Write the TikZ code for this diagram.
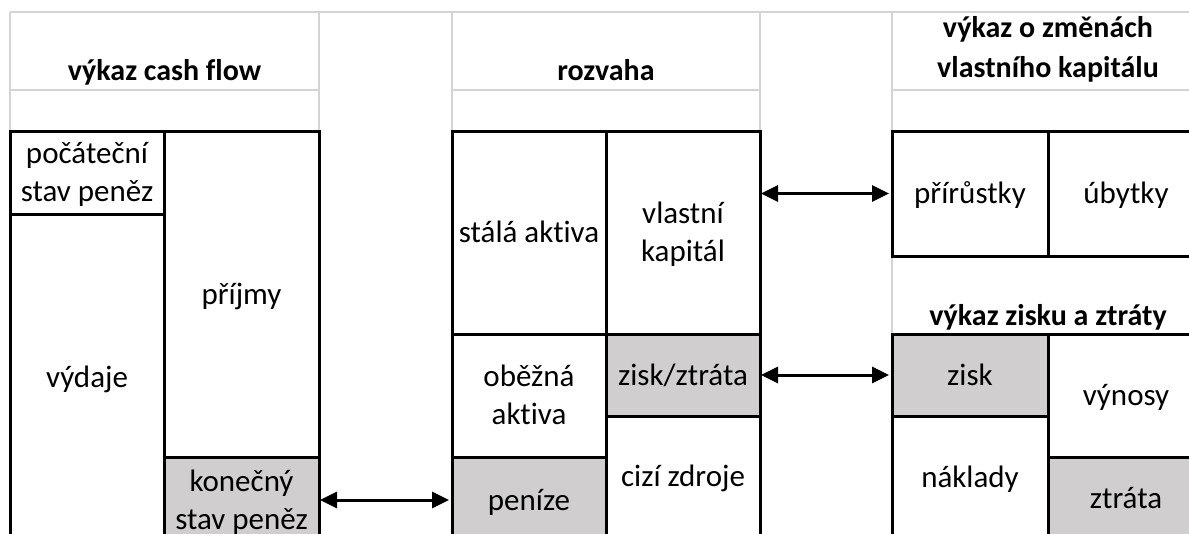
\documentclass[tikz,border=0pt]{standalone}
\usepackage{fontspec}
\setmainfont{Carlito}[Ligatures=NoCommon]
\usetikzlibrary{arrows.meta}
\definecolor{gridgray}{RGB}{212,212,212}
\definecolor{cellgray}{RGB}{208,206,206}
\newcommand{\cs}{\rule[-9pt]{0pt}{38pt}}
\tikzset{
  cell/.style={draw=black, line width=3pt, inner sep=0pt, outer sep=0pt, align=center,
    font=\fontsize{31}{38}\selectfont},
  shaded/.style={fill=cellgray},
  grid/.style={draw=gridgray, line width=1.6pt},
  head/.style={anchor=base, align=center, font=\fontsize{30}{40}\selectfont\bfseries, inner sep=0pt},
  biarrow/.style={line width=3pt, {Triangle[length=17pt,width=16pt]}-{Triangle[length=17pt,width=16pt]}, shorten <=1pt, shorten >=3pt}
}
\begin{document}
\begin{tikzpicture}[x=1pt,y=-1pt]
\useasboundingbox (0,0) rectangle (1189,533);
\clip (0,0) rectangle (1189,533);
% light spreadsheet grid
\draw[grid] (10,12) -- (1200,12);
\draw[grid] (10,90) -- (319,90) (452,90) -- (760,90) (892,90) -- (1200,90);
\draw[grid] (10,12) -- (10,131) (319,12) -- (319,131) (452,12) -- (452,131) (760,12) -- (760,131);
\draw[grid] (892,12) -- (892,334);
% headings
\node[head] (hcf) at (164.5,80) {výkaz cash flow};
\node[head] (hrz) at (606,80) {rozvaha};
\node[head] (hvk) at (1048,37) {výkaz o změnách};
\node[head] (hvk2) at (1048,77) {vlastního kapitálu};
\node[head] (hvz) at (1048,325) {výkaz zisku a ztráty};
% cash flow
\node[cell, minimum width=154pt, minimum height=83pt] (poc) at (87,172.5) {\cs počáteční\\\cs stav peněz};
\node[cell, minimum width=154pt, minimum height=326pt] (vyd) at (87,377) {\cs výdaje};
\node[cell, minimum width=155pt, minimum height=326pt] (pri) at (241.5,294) {\cs příjmy};
\node[cell, shaded, minimum width=155pt, minimum height=86pt] (kon) at (241.5,500) {\cs konečný\\\cs stav peněz};
% rozvaha
\node[cell, minimum width=154pt, minimum height=203pt] (sta) at (529,232.5) {\cs stálá aktiva};
\node[cell, minimum width=154pt, minimum height=123pt] (obe) at (529,395.5) {\cs oběžná\\\cs aktiva};
\node[cell, shaded, minimum width=154pt, minimum height=86pt] (pen) at (529,500) {\cs peníze};
\node[cell, minimum width=154pt, minimum height=203pt] (vla) at (683,232.5) {\cs vlastní\\\cs kapitál};
\node[cell, shaded, minimum width=154pt, minimum height=82pt] (zz) at (683,375) {\cs zisk/ztráta};
\node[cell, minimum width=154pt, minimum height=120pt] (ciz) at (683,476) {\cs cizí zdroje};
% vykaz o zmenach VK
\node[cell, minimum width=156pt, minimum height=125pt] (prir) at (970,193.5) {\cs přírůstky};
\node[cell, minimum width=156pt, minimum height=125pt] (uby) at (1126,193.5) {\cs úbytky};
% vykaz zisku a ztraty
\node[cell, shaded, minimum width=156pt, minimum height=82pt] (zis) at (970,375) {\cs zisk};
\node[cell, minimum width=156pt, minimum height=122pt] (nak) at (970,477) {\cs náklady};
\node[cell, minimum width=156pt, minimum height=123pt] (vyn) at (1126,395.5) {\cs výnosy};
\node[cell, shaded, minimum width=156pt, minimum height=82pt] (ztr) at (1126,498) {\cs ztráta};
% arrows
\draw[biarrow] (kon.east) -- (pen.west);
\draw[biarrow] (prir.west -| vla.east) -- (prir.west);
\draw[biarrow] (zz.east) -- (zis.west);
\end{tikzpicture}
\end{document}
